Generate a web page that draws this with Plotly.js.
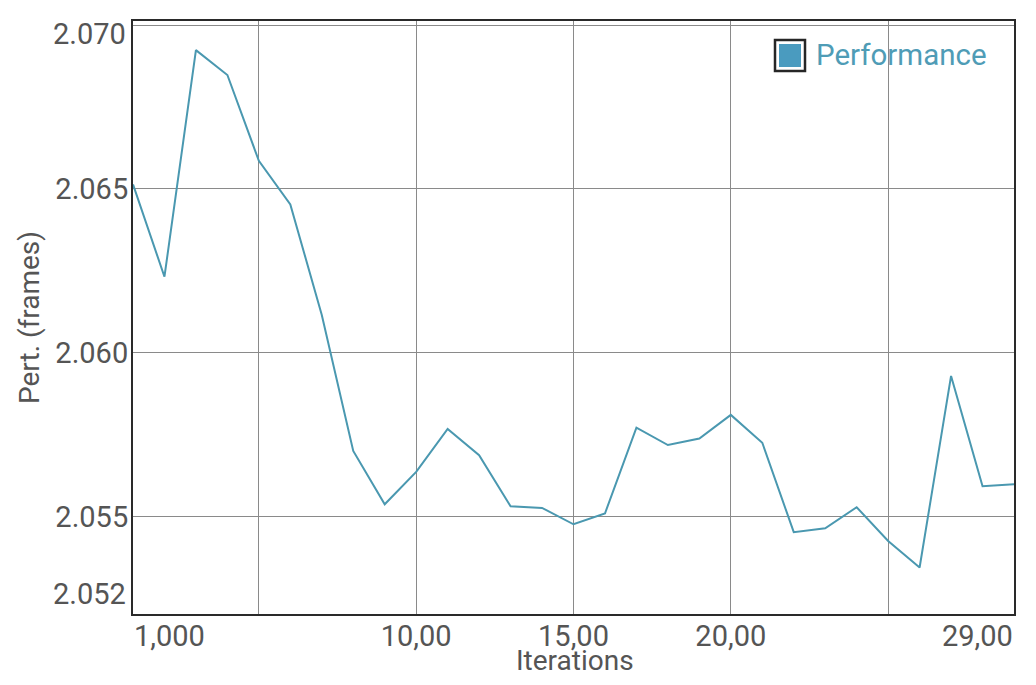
<!DOCTYPE html>
<html>
<head>
<meta charset="utf-8">
<script src="https://cdn.plot.ly/plotly-3.0.1.min.js"></script>
<style>
  html, body { margin: 0; padding: 0; background: #ffffff; }
  #chart { width: 1036px; height: 685px; }
</style>
</head>
<body>
<div id="chart"></div>
<script>
// ---- data ----
const SERIES_NAME = "Performance";
const X_TITLE = "Iterations";
const Y_TITLE = "Pert. (frames)";
const ITERATIONS = [1, 2, 3, 4, 5, 6, 7, 8, 9, 10, 11, 12, 13, 14, 15, 16, 17, 18, 19, 20, 21, 22, 23, 24, 25, 26, 27, 28, 29];
const PERF = [2.06514, 2.06232, 2.06924, 2.06848, 2.06586, 2.06453, 2.06115, 2.05700, 2.05537, 2.05636,
              2.05767, 2.05687, 2.05531, 2.05526, 2.05476, 2.05509, 2.05771, 2.05718, 2.05738, 2.05810,
              2.05725, 2.05452, 2.05464, 2.05528, 2.05425, 2.05344, 2.05929, 2.05592, 2.05598];
const X_GRID_VALS = [5, 10, 15, 20, 25];
const X_TICK_VALS = [1, 10, 15, 20, 29];
const X_TICK_TEXT = ["1,000", "10,00", "15,00", "20,00", "29,00"];
const Y_GRID_VALS = [2.055, 2.060, 2.065, 2.070];
const Y_TICK_VALS = [2.052, 2.055, 2.060, 2.065, 2.070];
const Y_TICK_TEXT = ["2.052", "2.055", "2.060", "2.065", "2.070"];
const X_RANGE = [1, 29];
const Y_RANGE = [2.05202, 2.07013];

// ---- styling ----
const W = 1036, H = 685;
const M = { l: 133, r: 22, t: 21, b: 71 };
const PW = W - M.l - M.r, PH = H - M.t - M.b;
const FONT = "Roboto, 'Open Sans', sans-serif";
const TICK_COLOR = "#555555";
const LINE_COLOR = "#4a98b0";
const FILL_COLOR = "#4a9bbf";
const LEG_TEXT = "#4f9cb6";
const px = v => (v - M.l) / PW;          // pixel x -> paper
const py = v => (H - M.b - v) / PH;      // pixel y -> paper

// inner ticks on the axes; the first/last labels are kept inside the frame as annotations
const xInnerText = X_GRID_VALS.map(v => {
  const i = X_TICK_VALS.indexOf(v);
  return (i > 0 && i < X_TICK_VALS.length - 1) ? X_TICK_TEXT[i] : "";
});
const yInnerText = Y_GRID_VALS.map(v => {
  const i = Y_TICK_VALS.indexOf(v);
  return (i > 0 && i < Y_TICK_VALS.length - 1) ? Y_TICK_TEXT[i] : "";
});

const tickFont = { family: FONT, size: 29, color: TICK_COLOR };
const nX = X_TICK_VALS.length, nY = Y_TICK_VALS.length;

const annotations = [
  { text: X_TICK_TEXT[0], xref: "paper", x: 0, yref: "paper", y: 0, xanchor: "left", yanchor: "middle",
    yshift: -22, xshift: -1, showarrow: false, font: tickFont },
  { text: X_TICK_TEXT[nX - 1], xref: "paper", x: 1, yref: "paper", y: 0,
    xanchor: "right", yanchor: "middle", yshift: -22, xshift: 1, showarrow: false, font: tickFont },
  { text: Y_TICK_TEXT[0], xref: "paper", x: 0, yref: "paper", y: 0, xanchor: "right", yanchor: "middle",
    xshift: -5, yshift: 20, showarrow: false, font: tickFont },
  { text: Y_TICK_TEXT[nY - 1], xref: "paper", x: 0, yref: "y", y: Y_TICK_VALS[nY - 1], xanchor: "right", yanchor: "middle",
    xshift: -5, yshift: -9, showarrow: false, font: tickFont },
  { text: X_TITLE, xref: "paper", x: 0.5, yref: "paper", y: 0, xanchor: "center", yanchor: "middle",
    xshift: 1, yshift: -46, showarrow: false, font: { family: FONT, size: 28, color: TICK_COLOR } },
  { text: SERIES_NAME, xref: "paper", x: px(814), yref: "paper", y: py(55), xanchor: "left", yanchor: "middle",
    showarrow: false, font: { family: FONT, size: 29.5, color: LEG_TEXT } }
];

const shapes = [
  { type: "rect", xref: "paper", yref: "paper", x0: px(764), x1: px(1000), y0: py(30), y1: py(81),
    fillcolor: "#ffffff", line: { width: 0 }, layer: "between" },
  { type: "rect", xref: "paper", yref: "paper", x0: px(775), x1: px(805), y0: py(40), y1: py(71),
    fillcolor: "rgba(0,0,0,0)", line: { color: "#262626", width: 2.5 }, layer: "above" },
  { type: "rect", xref: "paper", yref: "paper", x0: px(779), x1: px(801), y0: py(44), y1: py(67),
    fillcolor: FILL_COLOR, line: { width: 0 }, layer: "above" }
];

const trace = {
  type: "scatter", mode: "lines", name: SERIES_NAME,
  x: ITERATIONS, y: PERF,
  line: { color: LINE_COLOR, width: 2 },
  showlegend: false, cliponaxis: true
};

const layout = {
  width: W, height: H,
  margin: M,
  paper_bgcolor: "#ffffff", plot_bgcolor: "#ffffff",
  font: { family: FONT, color: TICK_COLOR },
  showlegend: false,
  xaxis: {
    range: X_RANGE, tickmode: "array", tickvals: X_GRID_VALS, ticktext: xInnerText,
    showgrid: true, gridcolor: "#8a8a8a", gridwidth: 1, zeroline: false,
    showline: true, mirror: true, linecolor: "#2a2a2a", linewidth: 2,
    ticks: "", tickfont: tickFont, ticklabelstandoff: -5
  },
  yaxis: {
    range: Y_RANGE, tickmode: "array", tickvals: Y_GRID_VALS, ticktext: yInnerText,
    showgrid: true, gridcolor: "#8a8a8a", gridwidth: 1, zeroline: false,
    showline: true, mirror: true, linecolor: "#2a2a2a", linewidth: 2,
    ticks: "", tickfont: tickFont, ticklabelstandoff: -3,
    title: { text: Y_TITLE, font: { family: FONT, size: 28, color: TICK_COLOR }, standoff: 8 }
  },
  annotations: annotations,
  shapes: shapes
};

Plotly.newPlot("chart", [trace], layout, { displayModeBar: false, staticPlot: true });
</script>
</body>
</html>
